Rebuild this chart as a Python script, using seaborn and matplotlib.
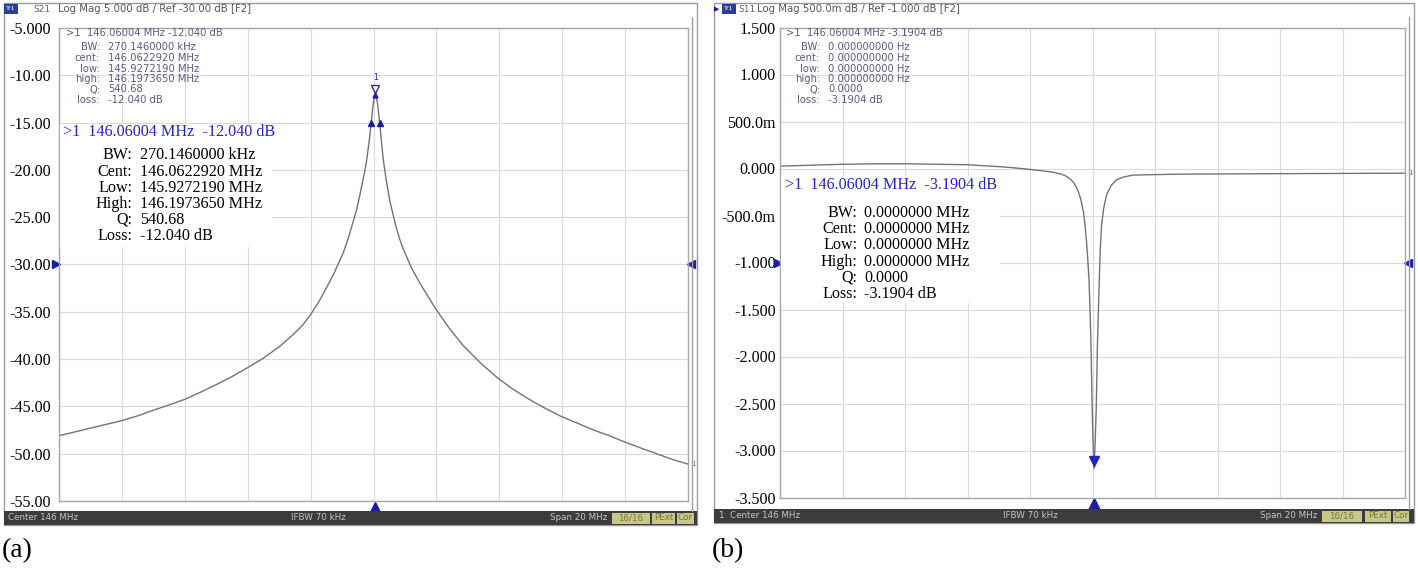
import numpy as np
import matplotlib
matplotlib.use("Agg")
import matplotlib.pyplot as plt
import matplotlib.transforms as mtransforms
from matplotlib.patches import Rectangle
import seaborn as sns

# --- donnees lues sur les captures ---
# (a) S21, pic de resonance
freq_a = [136.0, 136.5, 137.0, 137.5, 138.0, 138.5, 139.0, 139.5, 140.0, 140.5,
          141.0, 141.5, 142.0, 142.5, 143.0, 143.45, 143.75, 144.0, 144.25, 144.5,
          144.75, 145.04, 145.2, 145.36, 145.47, 145.57, 145.65, 145.73, 145.79,
          145.83, 145.88, 145.927, 145.97, 146.0, 146.03, 146.06, 146.09, 146.12,
          146.15, 146.197, 146.25, 146.31, 146.4, 146.52, 146.6, 146.7, 146.82,
          146.95, 147.2, 147.48, 147.7, 147.96, 148.4, 148.86, 149.4, 149.95,
          150.4, 150.87, 151.4, 151.93, 152.5, 153.0, 153.5, 153.94, 154.5,
          155.0, 155.5, 156.0]
s21_a = [-48.1, -47.7, -47.3, -46.9, -46.5, -46.0, -45.4, -44.85, -44.25, -43.5,
         -42.7, -41.85, -40.9, -39.9, -38.7, -37.4, -36.4, -35.3, -34.0, -32.5,
         -30.9, -28.75, -27.2, -25.4, -24.1, -22.6, -21.3, -20.0, -18.8,
         -17.8, -16.5, -15.04, -13.6, -12.8, -12.25, -12.04, -12.25, -12.8,
         -13.6, -15.04, -16.9, -18.9, -21.0, -23.3, -24.4, -25.8, -27.2,
         -28.4, -30.3, -32.0, -33.2, -34.6, -36.7, -38.6, -40.4, -42.0,
         -43.1, -44.1, -45.1, -46.0, -46.8, -47.5, -48.1, -48.7, -49.4,
         -50.0, -50.6, -51.1]

# (b) S11, creux
freq_b = [136.0, 137.0, 138.0, 139.0, 140.0, 141.0, 142.0, 142.5, 143.0, 143.4,
          143.7, 144.0, 144.4, 144.75, 145.0, 145.15, 145.28, 145.4, 145.48, 145.55,
          145.62, 145.67, 145.71, 145.76, 145.81, 145.85, 145.89, 145.92, 145.95,
          145.97, 145.99, 146.02, 146.05, 146.08, 146.12, 146.14, 146.16, 146.19,
          146.22, 146.25, 146.29, 146.36, 146.45, 146.6, 146.77, 147.0, 147.3,
          148.0, 148.8, 152.0, 156.0]
s11_b = [0.025, 0.035, 0.045, 0.05, 0.05, 0.045, 0.04, 0.03, 0.02, 0.01,
         0.0, -0.01, -0.025, -0.04, -0.06, -0.08, -0.11, -0.15, -0.2, -0.25,
         -0.32, -0.40, -0.46, -0.6, -0.78, -0.97, -1.20, -1.50, -1.84,
         -2.2, -2.55, -2.95, -3.19, -2.95, -2.55, -2.2, -1.84, -1.5,
         -1.15, -0.85, -0.60, -0.42, -0.28, -0.18, -0.12, -0.09, -0.07,
         -0.065, -0.06, -0.055, -0.05]

yticks_a = [-5, -10, -15, -20, -25, -30, -35, -40, -45, -50, -55]
ylabels_a = ["-5.000", "-10.00", "-15.00", "-20.00", "-25.00", "-30.00",
             "-35.00", "-40.00", "-45.00", "-50.00", "-55.00"]
yticks_b = [1.5, 1.0, 0.5, 0.0, -0.5, -1.0, -1.5, -2.0, -2.5, -3.0, -3.5]
ylabels_b = ["1.500", "1.000", "500.0m", "0.000", "-500.0m", "-1.000",
             "-1.500", "-2.000", "-2.500", "-3.000", "-3.500"]

# marqueurs
mk_freq = 146.06004
mk_a = -12.040
bw_low, bw_high = 145.9272190, 146.1973650
mk_b = -3.1904
ref_a, ref_b = -30.0, -1.0

info_labels = ["BW:", "Cent:", "Low:", "High:", "Q:", "Loss:"]
info_a = ["270.1460000 kHz", "146.0622920 MHz", "145.9272190 MHz",
          "146.1973650 MHz", "540.68", "-12.040 dB"]
info_b = ["0.0000000 MHz", "0.0000000 MHz", "0.0000000 MHz",
          "0.0000000 MHz", "0.0000", "-3.1904 dB"]
small_labels = ["BW:", "cent:", "low:", "high:", "Q:", "loss:"]
small_a = ["270.1460000 kHz", "146.0622920 MHz", "145.9272190 MHz",
           "146.1973650 MHz", "540.68", "-12.040 dB"]
small_b = ["0.000000000 Hz", "0.000000000 Hz", "0.000000000 Hz",
           "0.000000000 Hz", "0.0000", "-3.1904 dB"]

W, H = 1418, 572
sns.set_theme(style="white")
plt.rcParams['font.family'] = ['DejaVu Sans']

TIMES = 'Liberation Serif'
NAVY = '#1c1ca6'
BLUE = '#2323c8'
TRACE = '#72727e'
SMALL = '#5a5a86'

fig = plt.figure(figsize=(W / 100, H / 100), dpi=100)


def px_axes(l, t, r, b):
    return fig.add_axes([l / W, 1 - b / H, (r - l) / W, (b - t) / H])


def px_rect(l, t, r, b, **kw):
    fig.add_artist(Rectangle((l / W, 1 - b / H), (r - l) / W, (b - t) / H,
                             transform=fig.transFigure, **kw))


def px_text(x, y, s, **kw):
    kw.setdefault('va', 'center')
    fig.text(x / W, 1 - y / H, s, **kw)


def panel(l, t, r, b, freq, vals, ylim, yticks, ylabels, pad):
    ax = px_axes(l, t, r, b)
    sns.lineplot(x=freq, y=vals, ax=ax, color=TRACE, lw=1.0,
                 estimator=None, sort=False)
    ax.set_xlim(136, 156)
    ax.set_ylim(*ylim)
    ax.set_xticks(np.arange(136, 157, 2))
    ax.set_xticklabels([])
    ax.set_yticks(yticks)
    ax.set_yticklabels(ylabels, fontfamily=TIMES, fontsize=11.6, color='black')
    ax.tick_params(length=0, pad=pad)
    ax.grid(True, color='#dadada', lw=0.8)
    for s in ax.spines.values():
        s.set_color('#a8a8a8')
        s.set_linewidth(1)
    ax.set_xlabel("")
    ax.set_ylabel("")
    return ax


def frame(l, r, top, bar_t, bar_b, strip_x, badge_x, tr_x, header_x, header, trname,
          bar_items, boxes):
    px_rect(l, top, r, bar_b, facecolor='none', edgecolor='#9a9a9a', lw=1)
    fig.add_artist(plt.Line2D([strip_x / W, strip_x / W],
                              [1 - 17 / H, 1 - bar_t / H],
                              transform=fig.transFigure, color='#a0a0a0', lw=1))
    # en-tete
    px_rect(badge_x, 4, badge_x + 14, 14, facecolor='#2b3f95', edgecolor='none')
    px_text(badge_x + 7, 9, "Tr1", color='white', fontsize=4.5, ha='center')
    px_text(tr_x, 9, trname, color='#606060', fontsize=6.5, ha='left')
    px_text(header_x, 9.5, header, color='#555555', fontsize=7.3, ha='left')
    # barre du bas
    px_rect(l, bar_t, r, bar_b, facecolor='#3c3c3c', edgecolor='none')
    ym = (bar_t + bar_b) / 2
    for x, s, ha in bar_items:
        px_text(x, ym, s, color='#c4c4c4', fontsize=6.3, ha=ha)
    for bl, br, s in boxes:
        px_rect(bl, bar_t + 1.5, br, bar_b - 1.5, facecolor='#c9c68a', edgecolor='none')
        px_text((bl + br) / 2, ym, s, color='#7a7830', fontsize=6.3, ha='center')


# ---------------- (a) ----------------
frame(4, 697, 3, 511, 525, 692, 4, 33, 58, "Log Mag 5.000 dB / Ref -30.00 dB [F2]", "S21",
      [(8, "Center 146 MHz", 'left'), (318, "IFBW 70 kHz", 'center'),
       (607, "Span 20 MHz", 'right')],
      [(612, 650, "16/16"), (652, 675, "PExt"), (677, 694, "Cor")])
ax_a = panel(59, 28, 688, 501, freq_a, s21_a, (-55, -5), yticks_a, ylabels_a, 6)

# ---------------- (b) ----------------
frame(714, 1414, 3, 509, 523, 1409, 722, 738, 757,
      "Log Mag 500.0m dB / Ref -1.000 dB [F2]", "S11",
      [(719, "1  Center 146 MHz", 'left'), (1030, "IFBW 70 kHz", 'center'),
       (1317, "Span 20 MHz", 'right')],
      [(1322, 1362, "16/16"), (1365, 1391, "PExt"), (1393, 1409, "Cor")])
px_text(716.5, 9, "\u25B6", color=NAVY, fontsize=5, ha='center')
ax_b = panel(780, 27.5, 1405, 497.5, freq_b, s11_b, (-3.5, 1.5), yticks_b, ylabels_b, 3)

# marqueurs du VNA
for ax, ref, mk in [(ax_a, ref_a, mk_a), (ax_b, ref_b, mk_b)]:
    ty = ax.get_yaxis_transform()
    tx = ax.get_xaxis_transform()
    ax.plot([-0.004], [ref], marker='>', color=NAVY, ms=6, transform=ty, clip_on=False)
    ax.plot([1.004], [ref], marker='<', color=NAVY, ms=6, transform=ty, clip_on=False)
    ax.plot([mk_freq], [-0.014], marker='^', color=NAVY, ms=8, transform=tx, clip_on=False)

up_a = mtransforms.offset_copy(ax_a.transData, fig=fig, y=6, units='dots')
ax_a.plot([mk_freq], [mk_a], marker='v', mfc='none', mec=NAVY, mew=0.9, ms=6,
          transform=up_a, zorder=5)
ax_a.plot([mk_freq], [mk_a], marker='^', color=NAVY, ms=3.5, zorder=5)
ax_a.plot([bw_low, bw_high], [mk_a - 3, mk_a - 3], ls='none', marker='^',
          color=NAVY, ms=4.5, zorder=5)
ax_a.annotate("1", (mk_freq, mk_a), xytext=(0, 17), textcoords='offset pixels',
              ha='center', va='center', fontsize=5.5, color=NAVY)
ax_a.annotate("1", (156, s21_a[-1]), xytext=(3, 0), textcoords='offset pixels',
              ha='left', va='center', fontsize=5, color='#707070', annotation_clip=False)

up_b = mtransforms.offset_copy(ax_b.transData, fig=fig, y=7, units='dots')
ax_b.plot([mk_freq], [mk_b], marker='v', color=BLUE, ms=7, transform=up_b, zorder=5)
ax_b.annotate("1", (156, s11_b[-1]), xytext=(3, 0), textcoords='offset pixels',
              ha='left', va='center', fontsize=5, color='#707070', annotation_clip=False)

# blocs de texte des marqueurs
small_y = [47, 58, 68.5, 79, 89.5, 100]
big_y = [155, 171.5, 187.5, 203.5, 219.5, 236]
big_y_b = [213, 229, 245, 262, 278, 294]


def marker_block(x0, lab_r, val_l, head, labels, values, ys, size, color, family, dy0):
    px_text(x0, dy0, head, color=color, fontsize=size, ha='left', family=family)
    for y, lab, val in zip(ys, labels, values):
        px_text(lab_r, y, lab, color=color, fontsize=size, ha='right', family=family)
        px_text(val_l, y, val, color=color, fontsize=size, ha='left', family=family)


marker_block(66, 100, 108, ">1  146.06004 MHz -12.040 dB", small_labels, small_a,
             small_y, 7.2, SMALL, 'DejaVu Sans', 33)
marker_block(786, 820, 828, ">1  146.06004 MHz -3.1904 dB", small_labels, small_b,
             small_y, 7.2, SMALL, 'DejaVu Sans', 33)

px_rect(60, 124, 272, 247, facecolor='white', edgecolor='none')
px_text(63, 132, ">1  146.06004 MHz  -12.040 dB", color=BLUE, fontsize=11.6,
        ha='left', family=TIMES)
marker_block(63, 132, 140, "", info_labels, info_a, big_y, 11.6, 'black', TIMES, 132)

px_rect(781, 176, 1000, 303, facecolor='white', edgecolor='none')
px_text(785, 185, ">1  146.06004 MHz  -3.1904 dB", color=BLUE, fontsize=11.6,
        ha='left', family=TIMES)
marker_block(785, 857, 864, "", info_labels, info_b, big_y_b, 11.6, 'black', TIMES, 185)

px_text(2, 551, "(a)", fontsize=20, ha='left', family=TIMES, color='black')
px_text(712, 551, "(b)", fontsize=20, ha='left', family=TIMES, color='black')

fig.savefig("out.png", dpi=100)
